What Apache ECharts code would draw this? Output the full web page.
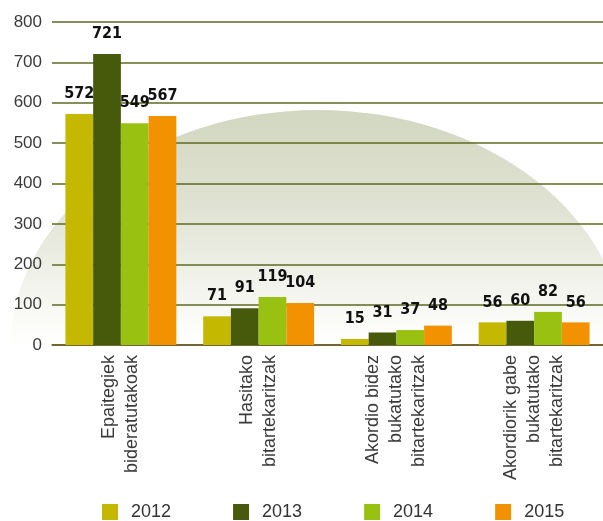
<!DOCTYPE html>
<html>
<head>
<meta charset="utf-8">
<script src="https://cdn.jsdelivr.net/npm/echarts@6/dist/echarts.min.js"></script>
<style>
  html, body { margin: 0; padding: 0; background: #fff; }
  #chart { width: 603px; height: 521px; }
</style>
</head>
<body>
<div id="chart"></div>
<script>
// kategoriak (x ardatza)
var categories = [
    'Epaitegiek\nbideratutakoak',
    'Hasitako\nbitartekaritzak',
    'Akordio bidez\nbukatutako\nbitartekaritzak',
    'Akordiorik gabe\nbukatutako\nbitartekaritzak'
];
var years = ['2012', '2013', '2014', '2015'];
var values2012 = [572, 71, 15, 56];
var values2013 = [721, 91, 31, 60];
var values2014 = [549, 119, 37, 82];
var values2015 = [567, 104, 48, 56];
var yTicks = [0, 100, 200, 300, 400, 500, 600, 700, 800];

var colors = ['#c4b800', '#475a0c', '#99c112', '#f39200'];
var seriesValues = [values2012, values2013, values2014, values2015];

var barLabel = {
    show: true,
    position: 'top',
    distance: 12,
    color: '#111',
    fontFamily: "'Liberation Sans Narrow', 'DejaVu Sans Condensed', sans-serif",
    fontWeight: 'bold',
    fontSize: 16
};

var series = years.map(function (y, i) {
    return {
        name: y,
        type: 'bar',
        data: seriesValues[i],
        itemStyle: { color: colors[i] },
        barGap: 0,
        barCategoryGap: '19.5%',
        label: barLabel,
        z: 3
    };
});

var option = {
    animation: false,
    color: colors,
    graphic: [
        {   // atzeko kupula
            type: 'circle',
            x: 318,
            y: 350,
            scaleX: 1.283,
            z: -10,
            silent: true,
            shape: { cx: 0, cy: 0, r: 240 },
            style: {
                fill: new echarts.graphic.LinearGradient(0, 0, 0, 1, [
                    { offset: 0, color: '#d2d7c0' },
                    { offset: 0.2, color: '#dfe2d2' },
                    { offset: 0.46, color: '#fdfdfb' },
                    { offset: 0.5, color: '#ffffff' }
                ])
            }
        }
    ],
    legend: {
        data: years,
        left: 102,
        top: 503,
        padding: 0,
        icon: 'rect',
        itemWidth: 16,
        itemHeight: 16,
        itemGap: 62,
        textStyle: {
            color: '#333',
            fontSize: 18,
            fontFamily: 'Liberation Sans',
            padding: [0, 0, 0, 8]
        }
    },
    grid: {
        left: 52,
        top: 22,
        width: 561,
        height: 323,
        containLabel: false
    },
    xAxis: {
        type: 'category',
        data: categories,
        axisTick: { show: false },
        axisLine: { lineStyle: { color: '#6d5a2a', width: 1.5 } },
        axisLabel: {
            rotate: 90,
            margin: 10,
            interval: 0,
            color: '#3a3a3a',
            fontSize: 18,
            lineHeight: 23,
            fontFamily: 'Liberation Sans'
        }
    },
    yAxis: {
        type: 'value',
        min: yTicks[0],
        max: yTicks[yTicks.length - 1],
        interval: 100,
        axisLine: { show: false },
        axisTick: { show: false },
        axisLabel: {
            margin: 10,
            color: '#3a3a3a',
            fontSize: 17,
            fontFamily: 'Liberation Sans'
        },
        splitLine: { lineStyle: { color: '#5f6a22', width: 1.5 } }
    },
    series: series
};

var chart = echarts.init(document.getElementById('chart'));
chart.setOption(option);
</script>
</body>
</html>
